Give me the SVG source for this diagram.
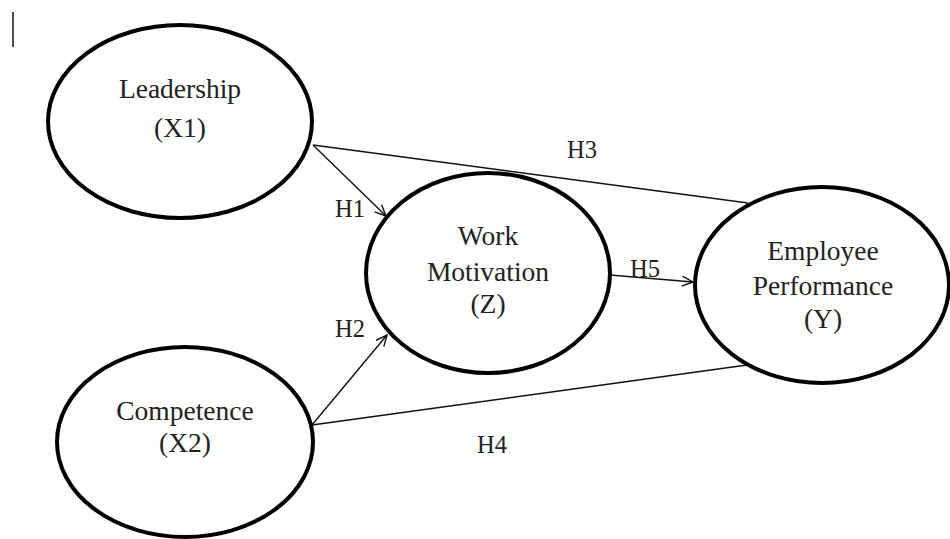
<svg xmlns="http://www.w3.org/2000/svg" width="950" height="539" viewBox="0 0 950 539">
<style>
.node ellipse{fill:#fff;stroke:#000;stroke-width:4}
.lbl{font-family:"Liberation Serif","Times New Roman",serif;font-size:27.5px;fill:#222;text-anchor:middle}
.hl{font-family:"Liberation Serif","Times New Roman",serif;font-size:24.5px;fill:#222}
.conn line{stroke:#111;stroke-width:1.4;fill:none}
</style>
<defs>
<marker id="arr" markerWidth="14" markerHeight="14" refX="12" refY="6" orient="auto" markerUnits="userSpaceOnUse">
<path d="M1,1 L12,6 L1,11" fill="none" stroke="#111" stroke-width="1.4"/>
</marker>
</defs>
<rect width="950" height="539" fill="#fff"/>
<line x1="13" y1="12" x2="13" y2="47" stroke="#222" stroke-width="1.6"/>
<g class="conn">
<line x1="313" y1="145" x2="748" y2="203"/>
<line x1="312" y1="425" x2="747" y2="365"/>
<line x1="313" y1="145" x2="386" y2="216" marker-end="url(#arr)"/>
<line x1="312" y1="425" x2="387" y2="335" marker-end="url(#arr)"/>
<line x1="610" y1="275" x2="693" y2="282" marker-end="url(#arr)"/>
</g>
<g id="leadership" class="node">
<ellipse cx="180" cy="121.5" rx="132" ry="96.5"/>
<text class="lbl" x="180" y="98">Leadership</text>
<text class="lbl" x="180" y="137">(X1)</text>
</g>
<g id="competence" class="node">
<ellipse cx="185" cy="442" rx="128" ry="95"/>
<text class="lbl" x="185" y="420">Competence</text>
<text class="lbl" x="185" y="452">(X2)</text>
</g>
<g id="motivation" class="node">
<ellipse cx="488" cy="273" rx="122" ry="100"/>
<text class="lbl" x="488" y="245">Work</text>
<text class="lbl" x="488" y="281">Motivation</text>
<text class="lbl" x="488" y="313">(Z)</text>
</g>
<g id="performance" class="node">
<ellipse cx="822" cy="285" rx="127" ry="98"/>
<text class="lbl" x="823" y="260">Employee</text>
<text class="lbl" x="823" y="295">Performance</text>
<text class="lbl" x="823" y="328">(Y)</text>
</g>
<g id="labels">
<text class="hl" x="335" y="217">H1</text>
<text class="hl" x="335" y="337">H2</text>
<text class="hl" x="567" y="158">H3</text>
<text class="hl" x="477" y="453">H4</text>
<text class="hl" x="630" y="277">H5</text>
</g>
</svg>
